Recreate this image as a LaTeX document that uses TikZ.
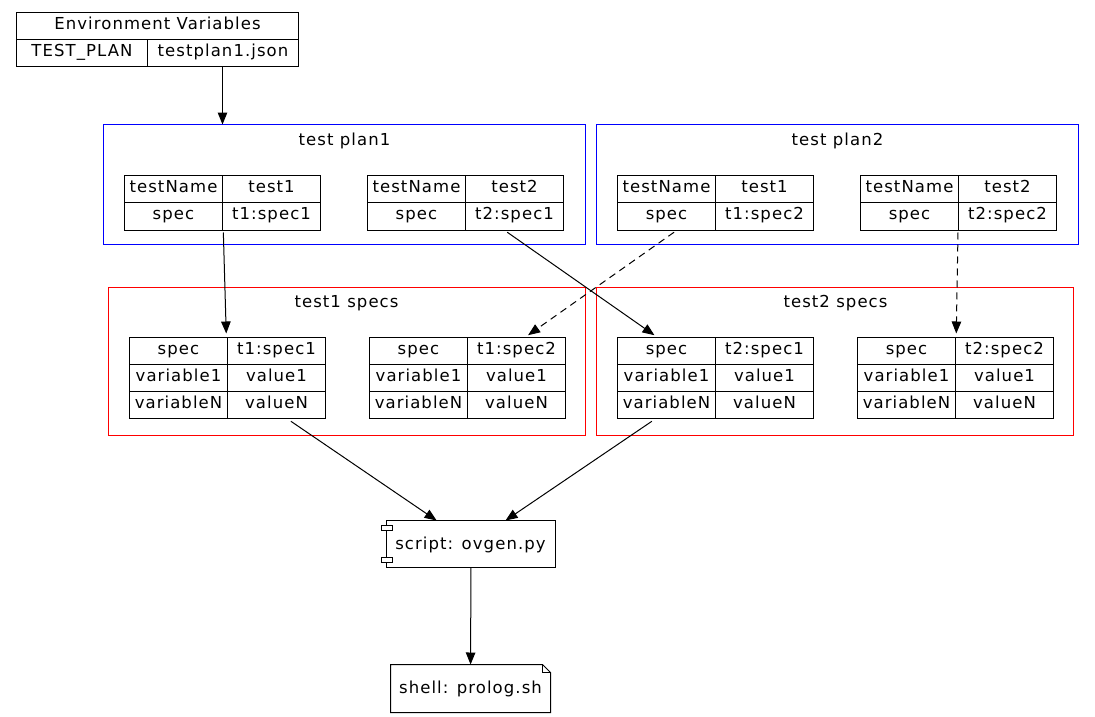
\documentclass[tikz,border=0pt]{standalone}
\usepackage{fontspec}
\setmainfont[LetterSpace=6.5]{DejaVu Sans}
\usetikzlibrary{arrows.meta,fit,calc}

\newcommand\labelfont{\fontsize{16.5}{20}\selectfont}

\tikzset{
  x=1pt, y=-1pt,
  every node/.style={font=\labelfont},
  lbl/.style={text height=11pt, text depth=4.5pt},
  cell/.style={lbl, draw, line width=1pt, minimum width=98pt, minimum height=27pt,
    inner sep=0pt, outer sep=0pt, anchor=north west},
  tablebox/.style={inner sep=0pt, outer sep=0pt},
  cluster/.style={draw, line width=1pt, inner sep=0pt, outer sep=0pt, anchor=north west},
  port/.style={draw, fill=white, line width=1pt, inner sep=0pt, outer sep=0pt,
    minimum width=11pt, minimum height=5pt},
  edge/.style={line width=1pt, -{Triangle[length=12pt,width=9.5pt]}},
  dashededge/.style={edge, dash pattern=on 7pt off 5pt},
}

% two-row test table: name, left, top, value of testName, value of spec
\newcommand\plantable[5]{%
  \node[cell] (#1-11) at (#2,#3) {testName};
  \node[cell] (#1-12) at (#2+98,#3) {#4};
  \node[cell, minimum height=28pt] (#1-21) at (#2,#3+27) {spec};
  \node[cell, minimum height=28pt] (#1-22) at (#2+98,#3+27) {#5};
  \node[tablebox, fit=(#1-11)(#1-22)] (#1) {};
}

% three-row spec table: name, left, top, spec id
\newcommand\spectable[4]{%
  \node[cell] (#1-11) at (#2,#3) {spec};
  \node[cell] (#1-12) at (#2+98,#3) {#4};
  \node[cell] (#1-21) at (#2,#3+27) {variable1};
  \node[cell] (#1-22) at (#2+98,#3+27) {value1};
  \node[cell] (#1-31) at (#2,#3+54) {variableN};
  \node[cell] (#1-32) at (#2+98,#3+54) {valueN};
  \node[tablebox, fit=(#1-11)(#1-32)] (#1) {};
}

\begin{document}
\begin{tikzpicture}
\useasboundingbox[fill=white] (0,0) rectangle (1095,717);

\begin{scope}[shift={(0.5,0.5)}]
% environment variables table
\node[cell, minimum width=282pt] (env-h) at (16,12) {Environment Variables};
\node[cell, minimum width=131pt] (env-k) at (16,39) {TEST\_PLAN};
\node[cell, minimum width=151pt] (env-v) at (147,39) {testplan1.json};
\node[tablebox, fit=(env-h)(env-v)] (env) {};

% test plan clusters
\node[cluster, draw=blue, minimum width=482pt, minimum height=120pt] (plan1) at (103,124) {};
\node[lbl] (plan1-title) at (344,141.5) {test plan1};
\node[cluster, draw=blue, minimum width=482pt, minimum height=120pt] (plan2) at (596,124) {};
\node[lbl] (plan2-title) at (837,141.5) {test plan2};

\plantable{p1a}{124}{175}{test1}{t1:spec1}
\plantable{p1b}{367}{175}{test2}{t2:spec1}
\plantable{p2a}{617}{175}{test1}{t1:spec2}
\plantable{p2b}{860}{175}{test2}{t2:spec2}

% spec clusters
\node[cluster, draw=red, minimum width=477pt, minimum height=148pt] (specs1) at (108,287) {};
\node[lbl] (specs1-title) at (346,303.5) {test1 specs};
\node[cluster, draw=red, minimum width=477pt, minimum height=148pt] (specs2) at (596,287) {};
\node[lbl] (specs2-title) at (835,303.5) {test2 specs};

\spectable{s1a}{129}{337}{t1:spec1}
\spectable{s1b}{369}{337}{t1:spec2}
\spectable{s2a}{617}{337}{t2:spec1}
\spectable{s2b}{857}{337}{t2:spec2}

% script component
\node[cluster, minimum width=169pt, minimum height=47pt] (script-box) at (386,520) {};
\node[lbl] (script) at (470,545.5) {script: ovgen.py};
\node[port] (script-p1) at (386.5,527.5) {};
\node[port] (script-p2) at (386.5,559.5) {};

% shell note
\node[inner sep=0pt, outer sep=0pt, minimum width=160pt, minimum height=48pt, anchor=north west] (shell) at (390,664) {};
\node[lbl] (shell-text) at (470,690) {shell: prolog.sh};
\draw[line width=1pt] (shell.north west) -- ($(shell.north east)+(-8,0)$) -- ($(shell.north east)+(0,8)$)
  -- (shell.south east) -- (shell.south west) -- cycle;
\draw[line width=1pt] ($(shell.north east)+(-8,0)$) -- ++(0,8) -- ++(8,0);

% connectors
\draw[edge] (env.south -| p1a) -- (p1a |- plan1.north);
\draw[edge, shorten <=2pt, shorten >=4pt] (p1a) -- (s1a);
\draw[edge, shorten <=3pt, shorten >=4pt] (p1b) -- (s2a);
\draw[dashededge, shorten <=3pt, shorten >=4pt] (p2a) -- (s1b);
\draw[dashededge, shorten <=2pt, shorten >=4pt] (p2b) -- (s2b);
\draw[edge, shorten <=5pt] (s1a) -- (script-box);
\draw[edge, shorten <=5pt] (s2a) -- (script-box);
\draw[edge] (script-box) -- (shell);
\end{scope}
\end{tikzpicture}
\end{document}
